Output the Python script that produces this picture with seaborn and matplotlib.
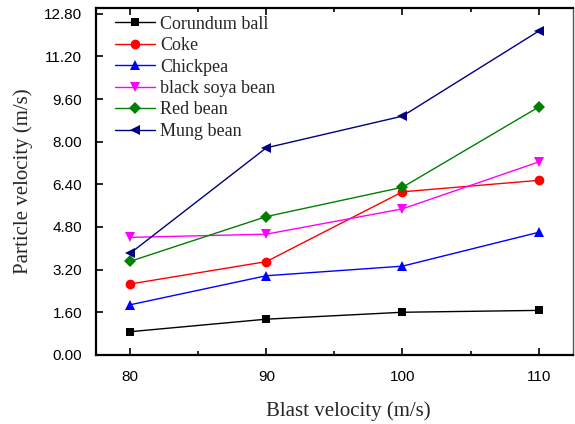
import matplotlib
matplotlib.use("Agg")
import matplotlib.pyplot as plt
import seaborn as sns
import pandas as pd
from matplotlib.ticker import FormatStrFormatter, MultipleLocator

# Blast velocity (m/s)
blast_velocity = [80, 90, 100, 110]

# Particle velocity (m/s) for each material
corundum_ball = [0.87, 1.34, 1.60, 1.67]
coke = [2.66, 3.50, 6.12, 6.55]
chickpea = [1.88, 2.97, 3.33, 4.60]
black_soya_bean = [4.41, 4.53, 5.48, 7.24]
red_bean = [3.51, 5.19, 6.29, 9.30]
mung_bean = [3.81, 7.77, 8.96, 12.15]

series_names = ["Corundum ball", "Coke", "Chickpea", "black soya bean", "Red bean", "Mung bean"]
series_values = [corundum_ball, coke, chickpea, black_soya_bean, red_bean, mung_bean]
y_ticks = [0.00, 1.60, 3.20, 4.80, 6.40, 8.00, 9.60, 11.20, 12.80]
x_ticks = [80, 90, 100, 110]

colors = ["black", "red", "blue", "magenta", "green", "navy"]
markers = ["s", "o", "^", "v", "D", "<"]
sizes = [6, 7, 7.5, 7.5, 6.5, 7.5]

rows = []
for name, vals in zip(series_names, series_values):
    for x, y in zip(blast_velocity, vals):
        rows.append({"Blast velocity": x, "Particle velocity": y, "Material": name})
df = pd.DataFrame(rows)

sns.set_style("ticks")
fig = plt.figure(figsize=(5.75, 4.24), dpi=100)
ax = fig.add_axes([0.167, 0.163, 0.829, 0.817])

for name, c, m, s in zip(series_names, colors, markers, sizes):
    sub = df[df["Material"] == name]
    sns.lineplot(data=sub, x="Blast velocity", y="Particle velocity", ax=ax,
                 color=c, marker=m, markersize=s, markeredgewidth=0,
                 linewidth=1.0, label=name, estimator=None, sort=False)

ax.set_xlim(77.5, 112.5)
ax.set_ylim(0, 13.0)
ax.set_xticks(x_ticks)
ax.xaxis.set_minor_locator(MultipleLocator(5))
ax.set_yticks(y_ticks)
ax.yaxis.set_major_formatter(FormatStrFormatter("%.2f"))

sans = ["Liberation Sans", "DejaVu Sans"]
serif = ["Liberation Serif", "DejaVu Serif"]
for lab in ax.get_xticklabels() + ax.get_yticklabels():
    lab.set_fontfamily(sans)
    lab.set_fontsize(11)

ax.tick_params(axis="both", which="both", direction="in", top=True, right=False,
               width=1.2, colors="black")
ax.tick_params(axis="y", which="major", length=5, pad=10)
ax.tick_params(axis="x", which="major", length=5, pad=11)
ax.tick_params(axis="x", which="minor", length=3)

for side in ["left", "bottom", "top"]:
    ax.spines[side].set_linewidth(1.6)
    ax.spines[side].set_color("black")
ax.spines["right"].set_linewidth(1.0)
ax.spines["right"].set_color("#555555")

ax.set_xlabel("Blast velocity (m/s)", fontfamily=serif, fontsize=15)
ax.set_ylabel("Particle velocity (m/s)", fontfamily=serif, fontsize=15, labelpad=8)
ax.xaxis.set_label_coords(0.529, -0.133)

leg = ax.legend(loc="upper left", frameon=False, prop={"family": serif, "size": 13},
                handlelength=2.2, handletextpad=0.3, labelspacing=0.245,
                borderaxespad=0.0, borderpad=0.0, bbox_to_anchor=(0.04, 0.979))

fig.savefig("out.png", dpi=100)
